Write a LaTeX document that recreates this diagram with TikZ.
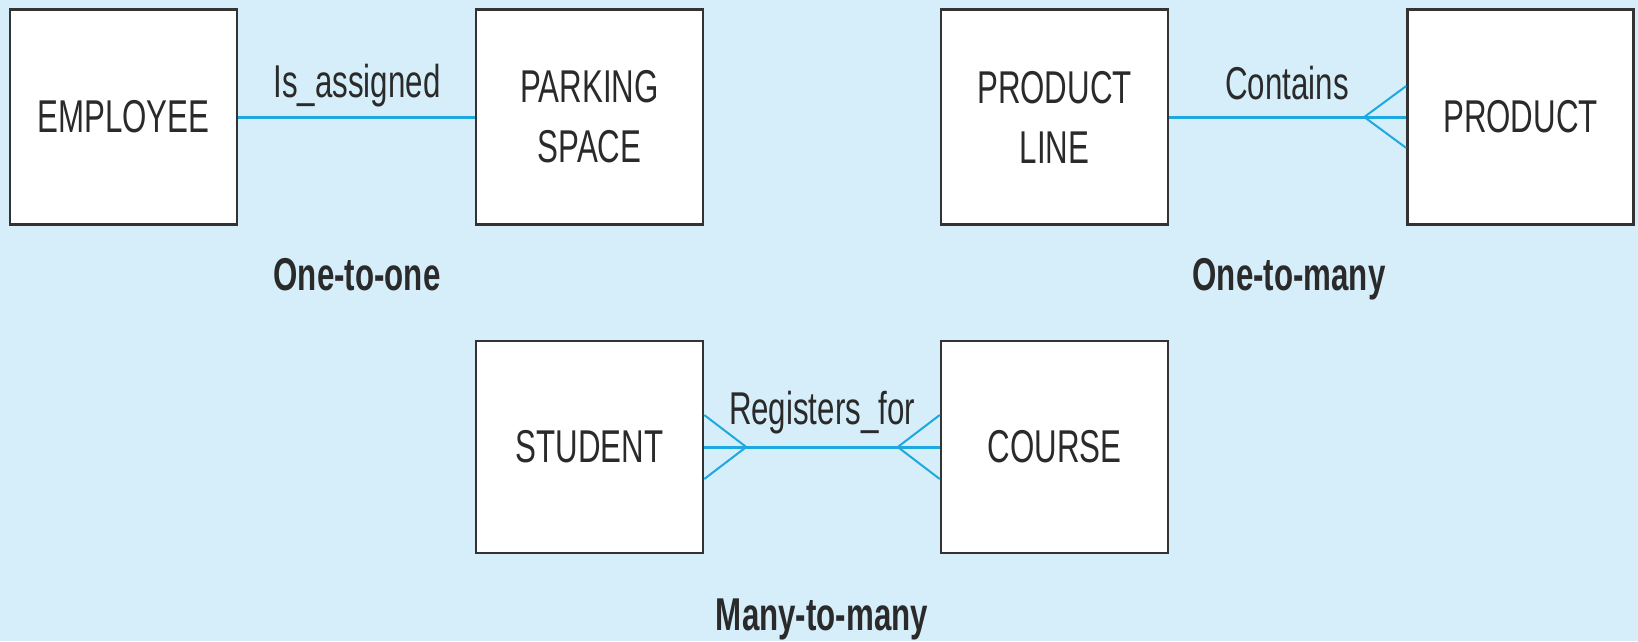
\documentclass[tikz,border=0pt]{standalone}
\usepackage{fontspec}
\setmainfont{Liberation Sans}[FakeStretch=0.68]
\usetikzlibrary{calc}
\definecolor{bgblue}{HTML}{D5EEFA}
\definecolor{relcyan}{HTML}{1EA8E0}
\definecolor{boxgray}{HTML}{333333}
\definecolor{txtgray}{HTML}{2A2A2A}
\tikzset{
  entity/.style={draw=boxgray, line width=2.5pt, fill=white, minimum width=227pt,
    minimum height=215pt, inner sep=0pt, align=center, text=txtgray,
    font=\fontsize{46}{60}\selectfont},
  rel/.style={draw=relcyan, line width=3pt},
  foot/.style={draw=relcyan, line width=2pt},
  rellabel/.style={anchor=base, inner sep=0pt, text=txtgray, font=\fontsize{46}{56}\selectfont},
  kindlabel/.style={anchor=base, inner sep=0pt, text=txtgray, font=\fontsize{46}{56}\selectfont\bfseries}
}
\begin{document}
\begin{tikzpicture}[x=1pt,y=-1pt]
\fill[bgblue] (0,0) rectangle (1638,641);
\useasboundingbox (0,0) rectangle (1638,641);

% One-to-one
\node[entity] (emp) at (123.5,117) {EMPLOYEE};
\node[entity] (park) at (589.5,117) {PARKING\\SPACE};
\draw[rel] (emp.east) -- (park.west);
\node[rellabel] (isas) at (357,97) {Is\_assigned};
\node[kindlabel] (oto) at (357,290) {One-to-one};

% One-to-many
\node[entity] (pline) at (1054.5,117) {PRODUCT\\LINE};
\node[entity, minimum width=226pt] (prod) at (1520.5,117) {PRODUCT};
\draw[rel] (pline.east) -- (prod.west);
\coordinate (pf) at ($(prod.west)+(-42,0)$);
\draw[foot] (pf) -- ($(prod.west)+(0,-31)$);
\draw[foot] (pf) -- ($(prod.west)+(0,31)$);
\node[rellabel] (cont) at (1287,99) {Contains};
\node[kindlabel] (otm) at (1289,290) {One-to-many};

% Many-to-many
\node[entity, minimum height=212pt] (stud) at (589.5,447) {STUDENT};
\node[entity, minimum height=212pt] (course) at (1054.5,447) {COURSE};
\draw[rel] (stud.east) -- (course.west);
\coordinate (sf) at ($(stud.east)+(42,0)$);
\draw[foot] (sf) -- ($(stud.east)+(0,-32)$);
\draw[foot] (sf) -- ($(stud.east)+(0,32)$);
\coordinate (cf) at ($(course.west)+(-42,0)$);
\draw[foot] (cf) -- ($(course.west)+(0,-32)$);
\draw[foot] (cf) -- ($(course.west)+(0,32)$);
\node[rellabel] (reg) at (822,424) {Registers\_for};
\node[kindlabel] (mtm) at (822,630) {Many-to-many};
\end{tikzpicture}
\end{document}
